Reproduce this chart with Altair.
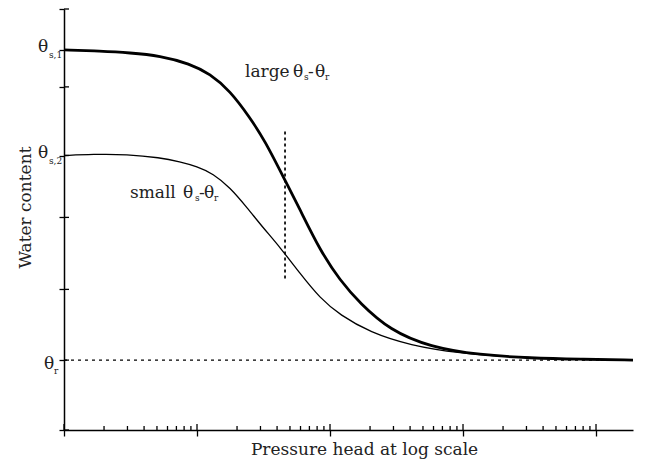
import altair as alt
import pandas as pd

FONT = "DejaVu Serif"
TXT = "#222222"

# ---- data ----------------------------------------------------------------
# pressure head (log axis, arbitrary units) and water content (arbitrary units)
head_large = [1, 1.87, 3.13, 5.27, 8.85, 12.5, 17.7, 25.0, 32.4, 44.4, 59.4,
              84.1, 119, 168, 282, 565, 1343, 3192, 7586, 18970]
theta_large = [0.903, 0.900, 0.896, 0.889, 0.870, 0.846, 0.806, 0.742, 0.687,
               0.602, 0.524, 0.427, 0.355, 0.301, 0.237, 0.197, 0.178, 0.171,
               0.168, 0.166]

head_small = [1, 1.65, 2.98, 5.27, 7.45, 10.0, 13.2, 17.7, 23.8, 31.3, 42.1,
              59.4, 84.1, 119, 200, 400, 948, 2254, 7586, 18970]
theta_small = [0.652, 0.655, 0.655, 0.647, 0.637, 0.626, 0.609, 0.576, 0.528,
               0.481, 0.434, 0.372, 0.313, 0.273, 0.232, 0.201, 0.182, 0.173,
               0.168, 0.166]

theta_r = 0.166
theta_s1 = 0.903
theta_s2 = 0.652
y_ticks = [0, theta_r, 0.334, 0.505, theta_s2, 0.815, theta_s1, 1.0]

x_domain = [1, 18970]
x_major = [1, 10, 100, 1000, 10000]
x_minor = [2, 3, 4, 5, 6, 7, 8, 9,
           20, 30, 40, 50, 60, 70, 80, 90,
           200, 300, 400, 500, 600, 700, 800, 900,
           2000, 3000, 4000, 5000, 6000, 7000, 8000, 9000]

marker_head = [45.9]           # vertical dotted marker
marker_theta = [0.360, 0.711]

label_large = ["large", "θ", "s", "-", "θ", "r"]
label_small = ["small", "θ", "s", "-", "θ", "r"]
anchor_large = [22.96, 0.839]
anchor_small = [3.13, 0.552]

x_title = "Pressure head at log scale"
y_title = "Water content"

# ---- scales / axes --------------------------------------------------------
xs = alt.Scale(type="log", domain=x_domain, nice=False)
ys = alt.Scale(domain=[0, 1], nice=False, zero=False)

major_test = " || ".join(f"datum.value == {v}" for v in x_major)
xaxis = alt.Axis(
    values=x_major + x_minor, labels=False, grid=False,
    domain=True, domainColor="black", domainWidth=1.5,
    ticks=True, tickColor="black", tickWidth=1.3,
    tickSize={"condition": {"test": major_test, "value": 6}, "value": 0},
    title=x_title, titleFont=FONT, titleFontSize=17, titleFontWeight="normal",
    titleColor=TXT, titleX=300, titleY=24, titleAlign="center",
    titleBaseline="alphabetic",
)
yaxis = alt.Axis(
    values=y_ticks, labels=False, grid=False,
    domain=True, domainColor="black", domainWidth=1.5,
    ticks=True, tickColor="black", tickWidth=1.3, tickSize=5,
    title=y_title, titleFont=FONT, titleFontSize=17, titleFontWeight="normal",
    titleColor=TXT, titleAngle=270, titleX=-34, titleY=198,
    titleAlign="center", titleBaseline="alphabetic",
)

X = lambda f="h": alt.X(f"{f}:Q", scale=xs, axis=xaxis)
Y = lambda f="theta": alt.Y(f"{f}:Q", scale=ys, axis=yaxis)

df_large = pd.DataFrame({"h": head_large, "theta": theta_large})
df_small = pd.DataFrame({"h": head_small, "theta": theta_small})

line_large = alt.Chart(df_large).mark_line(
    color="black", strokeWidth=2.8, interpolate="basis"
).encode(x=X(), y=Y())
line_small = alt.Chart(df_small).mark_line(
    color="black", strokeWidth=1.3, interpolate="basis"
).encode(x=X(), y=Y())

# residual water content dashed line
df_r = pd.DataFrame({"h": [x_domain[0]], "h2": [x_domain[1]], "theta": [theta_r]})
rule_r = alt.Chart(df_r).mark_rule(
    color="black", strokeWidth=1.3, strokeDash=[3, 4]
).encode(x=X(), x2="h2:Q", y=Y())

# vertical dotted marker
df_v = pd.DataFrame({"h": marker_head, "theta": [marker_theta[0]],
                     "theta2": [marker_theta[1]]})
rule_v = alt.Chart(df_v).mark_rule(
    color="black", strokeWidth=1.7, strokeDash=[3, 3]
).encode(x=X(), y=Y(), y2="theta2:Q")

# inward halves of the ticks
df_xmaj = pd.DataFrame({"h": x_major})
df_xmin = pd.DataFrame({"h": x_minor})
df_yt = pd.DataFrame({"theta": y_ticks})
in_xmaj = alt.Chart(df_xmaj).mark_rule(color="black", strokeWidth=1.3).encode(
    x=X(), y=alt.value(415), y2=alt.value(421))
in_xmin = alt.Chart(df_xmin).mark_rule(color="black", strokeWidth=1.3).encode(
    x=X(), y=alt.value(417), y2=alt.value(421))
in_y = alt.Chart(df_yt).mark_rule(color="black", strokeWidth=1.3).encode(
    y=Y(), x=alt.value(0), x2=alt.value(5))


def piece(txt, h, theta, dx, dy, size):
    d = pd.DataFrame({"h": [h], "theta": [theta], "t": [txt]})
    return alt.Chart(d).mark_text(
        align="left", baseline="alphabetic", dx=dx, dy=dy,
        fontSize=size, font=FONT, color=TXT
    ).encode(x=X(), y=Y(), text="t:N")


texts = []
# y-axis symbol labels
for th, sub in [(theta_s1, "s,1"), (theta_s2, "s,2")]:
    texts.append(piece("θ", 1, th, -26, 2, 17))
    texts.append(piece(sub, 1, th, -15, 8, 9))
texts.append(piece("θ", 1, theta_r, -20, 9, 17))
texts.append(piece("r", 1, theta_r, -10, 14, 9))

# curve annotations
offs_large = [(0, 0, 17), (48, 0, 17), (59, 3, 9), (63, 0, 17), (70, 0, 17), (80, 3, 9)]
offs_small = [(0, 0, 17), (53, 0, 17), (65, 3, 9), (69, 0, 17), (74, 0, 17), (84, 3, 9)]
for t, (dx, dy, s) in zip(label_large, offs_large):
    texts.append(piece(t, anchor_large[0], anchor_large[1], dx, dy, s))
for t, (dx, dy, s) in zip(label_small, offs_small):
    texts.append(piece(t, anchor_small[0], anchor_small[1], dx, dy, s))

chart = alt.layer(
    line_large, line_small, rule_r, rule_v, in_xmaj, in_xmin, in_y, *texts
).properties(
    width=569, height=421,
    autosize=alt.AutoSizeParams(type="none"),
    padding={"left": 56, "top": 1, "right": 4, "bottom": 29},
    background="white",
).configure_view(stroke=None)

chart.save("out.html", embed_options={"renderer": "svg", "actions": False})
